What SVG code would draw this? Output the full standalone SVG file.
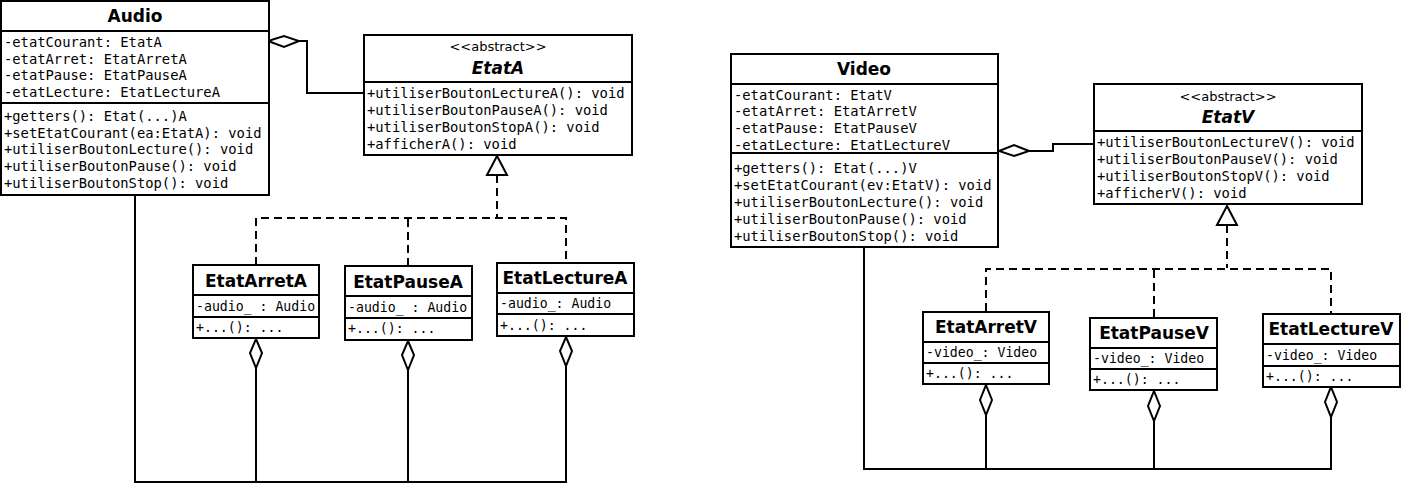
<svg xmlns="http://www.w3.org/2000/svg" width="1404" height="500" viewBox="0 0 1404 500">
<style>
.box{fill:#fff;stroke:#000;stroke-width:2}
.sep{stroke:#000;stroke-width:2}
.title{font-family:"DejaVu Sans",sans-serif;font-weight:bold;font-size:17px;text-anchor:middle;fill:#000}
.ital{font-style:italic}
.mono{font-family:"DejaVu Sans Mono",monospace;font-size:13.8px;fill:#000}
.small{font-size:13.2px}
.stereo{font-family:"DejaVu Sans",sans-serif;font-size:13px;text-anchor:middle;fill:#000}
.conn{fill:none;stroke:#000;stroke-width:2}
.dash{stroke-dasharray:8 5}
.head{fill:#fff;stroke:#000;stroke-width:2}
</style>
<rect width="1404" height="500" fill="#fff"/>
<g id="connectors">
  <polyline class="conn" points="299,41 307,41 307,93 364,93"/>
  <polygon class="head" points="268,41 284,36 299,41 284,47"/>
  <polyline class="conn dash" points="497,175 497,218"/>
  <polyline class="conn dash" points="256,265 256,218 566,218 566,263"/>
  <polyline class="conn dash" points="408,266 408,218"/>
  <polygon class="head" points="497,156 487,175 507,175"/>
  <polyline class="conn" points="135,195 135,482 566,482 566,366"/>
  <line class="conn" x1="256" y1="368" x2="256" y2="482"/>
  <line class="conn" x1="408" y1="370" x2="408" y2="482"/>
  <polygon class="head" points="256,339 262,353 256,368 250,353"/>
  <polygon class="head" points="408,341 414,355 408,370 402,355"/>
  <polygon class="head" points="566,337 572,351 566,366 560,351"/>
  <polyline class="conn" points="1029,151 1053,151 1053,144 1094,144"/>
  <polygon class="head" points="999,151 1014,145 1029,151 1014,156"/>
  <polyline class="conn dash" points="1227,225 1227,268"/>
  <polyline class="conn dash" points="986,311 986,269 1331,269 1331,314"/>
  <polyline class="conn dash" points="1154,317 1154,269"/>
  <polygon class="head" points="1227,206 1217,225 1237,225"/>
  <polyline class="conn" points="864,247 864,469 1331,469 1331,417"/>
  <line class="conn" x1="986" y1="415" x2="986" y2="469"/>
  <line class="conn" x1="1154" y1="421" x2="1154" y2="469"/>
  <polygon class="head" points="986,385 992,400 986,415 980,400"/>
  <polygon class="head" points="1154,391 1160,406 1154,421 1148,406"/>
  <polygon class="head" points="1331,387 1337,402 1331,417 1325,402"/>
</g>
<g id="Audio">
  <rect class="box" x="1" y="1" width="268" height="194"/>
  <line class="sep" x1="1" y1="31" x2="269" y2="31"/>
  <line class="sep" x1="1" y1="103" x2="269" y2="103"/>
  <text class="title" x="135" y="22">Audio</text>
  <text class="mono" x="4" y="47">-etatCourant: EtatA</text>
  <text class="mono" x="4" y="64">-etatArret: EtatArretA</text>
  <text class="mono" x="4" y="80">-etatPause: EtatPauseA</text>
  <text class="mono" x="4" y="97">-etatLecture: EtatLectureA</text>
  <text class="mono" x="4" y="121">+getters(): Etat(...)A</text>
  <text class="mono" x="4" y="138">+setEtatCourant(ea:EtatA): void</text>
  <text class="mono" x="4" y="154">+utiliserBoutonLecture(): void</text>
  <text class="mono" x="4" y="171">+utiliserBoutonPause(): void</text>
  <text class="mono" x="4" y="188">+utiliserBoutonStop(): void</text>
</g>
<g id="EtatA">
  <rect class="box" x="364" y="35" width="268" height="120"/>
  <line class="sep" x1="364" y1="82" x2="632" y2="82"/>
  <text class="stereo" x="498" y="51">&lt;&lt;abstract&gt;&gt;</text>
  <text class="title ital" x="498" y="74">EtatA</text>
  <text class="mono" x="367" y="98">+utiliserBoutonLectureA(): void</text>
  <text class="mono" x="367" y="115">+utiliserBoutonPauseA(): void</text>
  <text class="mono" x="367" y="132">+utiliserBoutonStopA(): void</text>
  <text class="mono" x="367" y="149">+afficherA(): void</text>
</g>
<g id="EtatArretA">
  <rect class="box" x="193" y="265" width="126" height="73"/>
  <line class="sep" x1="193" y1="295" x2="319" y2="295"/>
  <line class="sep" x1="193" y1="317" x2="319" y2="317"/>
  <text class="title" x="256" y="287">EtatArretA</text>
  <text class="mono small" x="196" y="311">-audio_ : Audio</text>
  <text class="mono small" x="196" y="332">+...(): ...</text>
</g>
<g id="EtatPauseA">
  <rect class="box" x="345" y="266" width="127" height="74"/>
  <line class="sep" x1="345" y1="296" x2="472" y2="296"/>
  <line class="sep" x1="345" y1="318" x2="472" y2="318"/>
  <text class="title" x="408" y="288">EtatPauseA</text>
  <text class="mono small" x="348" y="312">-audio_ : Audio</text>
  <text class="mono small" x="348" y="333">+...(): ...</text>
</g>
<g id="EtatLectureA">
  <rect class="box" x="497" y="263" width="137" height="73"/>
  <line class="sep" x1="497" y1="293" x2="634" y2="293"/>
  <line class="sep" x1="497" y1="314" x2="634" y2="314"/>
  <text class="title" x="565" y="284">EtatLectureA</text>
  <text class="mono small" x="500" y="308">-audio_: Audio</text>
  <text class="mono small" x="500" y="330">+...(): ...</text>
</g>
<g id="Video">
  <rect class="box" x="731" y="54" width="267" height="193"/>
  <line class="sep" x1="731" y1="84" x2="998" y2="84"/>
  <line class="sep" x1="731" y1="153" x2="998" y2="153"/>
  <text class="title" x="864" y="75">Video</text>
  <text class="mono" x="734" y="100">-etatCourant: EtatV</text>
  <text class="mono" x="734" y="116">-etatArret: EtatArretV</text>
  <text class="mono" x="734" y="133">-etatPause: EtatPauseV</text>
  <text class="mono" x="734" y="150">-etatLecture: EtatLectureV</text>
  <text class="mono" x="734" y="173">+getters(): Etat(...)V</text>
  <text class="mono" x="734" y="190">+setEtatCourant(ev:EtatV): void</text>
  <text class="mono" x="734" y="207">+utiliserBoutonLecture(): void</text>
  <text class="mono" x="734" y="224">+utiliserBoutonPause(): void</text>
  <text class="mono" x="734" y="241">+utiliserBoutonStop(): void</text>
</g>
<g id="EtatV">
  <rect class="box" x="1094" y="84" width="268" height="120"/>
  <line class="sep" x1="1094" y1="131" x2="1362" y2="131"/>
  <text class="stereo" x="1228" y="101">&lt;&lt;abstract&gt;&gt;</text>
  <text class="title ital" x="1228" y="123">EtatV</text>
  <text class="mono" x="1097" y="147">+utiliserBoutonLectureV(): void</text>
  <text class="mono" x="1097" y="164">+utiliserBoutonPauseV(): void</text>
  <text class="mono" x="1097" y="181">+utiliserBoutonStopV(): void</text>
  <text class="mono" x="1097" y="198">+afficherV(): void</text>
</g>
<g id="EtatArretV">
  <rect class="box" x="923" y="312" width="126" height="72"/>
  <line class="sep" x1="923" y1="342" x2="1049" y2="342"/>
  <line class="sep" x1="923" y1="363" x2="1049" y2="363"/>
  <text class="title" x="986" y="333">EtatArretV</text>
  <text class="mono small" x="926" y="357">-video_: Video</text>
  <text class="mono small" x="926" y="378">+...(): ...</text>
</g>
<g id="EtatPauseV">
  <rect class="box" x="1090" y="318" width="127" height="72"/>
  <line class="sep" x1="1090" y1="348" x2="1217" y2="348"/>
  <line class="sep" x1="1090" y1="369" x2="1217" y2="369"/>
  <text class="title" x="1154" y="339">EtatPauseV</text>
  <text class="mono small" x="1093" y="363">-video_: Video</text>
  <text class="mono small" x="1093" y="384">+...(): ...</text>
</g>
<g id="EtatLectureV">
  <rect class="box" x="1263" y="314" width="137" height="73"/>
  <line class="sep" x1="1263" y1="344" x2="1400" y2="344"/>
  <line class="sep" x1="1263" y1="366" x2="1400" y2="366"/>
  <text class="title" x="1331" y="335">EtatLectureV</text>
  <text class="mono small" x="1266" y="360">-video_: Video</text>
  <text class="mono small" x="1266" y="381">+...(): ...</text>
</g>
</svg>
